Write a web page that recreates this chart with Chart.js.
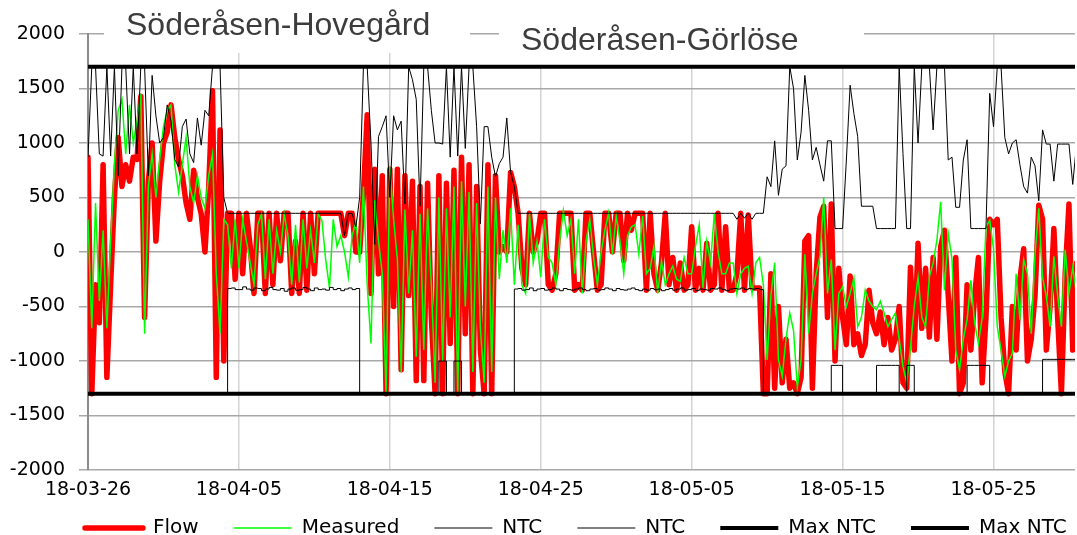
<!DOCTYPE html>
<html>
<head>
<meta charset="utf-8">
<title>Söderåsen flow</title>
<script src="https://cdn.jsdelivr.net/npm/chart.js@4.4.1/dist/chart.umd.min.js"></script>
<style>
  html, body { margin: 0; padding: 0; background: #fff; }
</style>
</head>
<body>
<canvas id="flowChart" width="1077" height="535"></canvas>
<script>
// x is days since 18-03-26, one sample every 6 hours (4 per row = 1 day)
const STEP = 0.25;
const X_MAX = 65.4;

const dateLabels = ['18-03-26', '18-04-05', '18-04-15', '18-04-25', '18-05-05', '18-05-15', '18-05-25'];
const seriesNames = ['Flow', 'Measured', 'NTC', 'NTC', 'Max NTC', 'Max NTC'];
const maxNtc = [1700, -1300];

const flow = [
  870, -1300, -300, -650,   800, -1150, -300, 500,   1050, 600, 800, 650,   870, 850, 1430, -600,
  650, 1000, 100, 650,      1000, 1100, 1350, 1050,  850, 700, 450, 300,    750, 500, 350, 0,
  600, 1480, -1150, 1120,   -1000, 355, 355, -250,   355, -200, 355, 50,    -380, 355, 355, -380,
  355, -300, 355, -80,      355, 355, -380, 100,     -380, 355, -350, 355,  -200, 355, 355, 355,
  355, 355, 355, 355,       150, 355, 355, 0,        0, 540, 1260, -380,    760, -200, 700, -1300,
  760, -500, 760, -1080,    700, -400, 650, -1180,   600, -1180, 630, -600, -1300, 700, -1300, 630,
  -840, 750, -1300, 870,    -750, 800, -1300, 600,   -900, -1300, 800, -1300, 700, 0, 50, 0,
  730, 600, 355, -150,      -300, 355, 0, 100,       355, 355, -300, -350,  -200, 355, 355, 355,
  355, -350, -300, -350,    355, 355, 0, -350,       -300, 355, 355, 0,     355, 355, -80, 355,
  200, 355, 355, 355,       -350, 355, -200, -350,   -100, 355, -300, -50,  -350, -100, -350, -300,
  232, -350, -150, -350,    80, -350, -300, 355,     -350, 232, -350, -350, -200, 355, -350, 340,
  -330, -330, -330, -1300,  -1300, -200, -1250, -500, -1200, -800, -1250, -1200, -1300, -1150, 100, 150,
  -1250, -200, 320, 420,    -600, 440, -1000, -150,  -600, -850, -220, -850, -750, -950, -850, -350,
  -650, -750, -550, -850,   -600, -900, -800, -500,  -1200, -1250, -140, -900, 80, -700, -150, -780,
  -50, -800, 50, 200,       -400, -1000, -50, -1300, -1200, -300, -900, -400, -50, -1200, -600, 300,
  250, 300, -600, -1100,    -1300, -500, -900, -250, 30, -1000, -800, -400, 430, 300, -900, -500,
  215, -600, -1300, -200,   440, -900, -100, -800
];

const measured = [
  300, -700, 450, -450,     200, -700, 100, 800,     1300, 1400, 900, 1350, 1000, 1200, 1450, -750,
  600, 900, 500, 850,       1150, 1300, 1350, 800,   550, 800, 1050, 600,   450, 700, 500, 400,
  700, 900, -200, -750,     300, 250, -150, 300,     -150, 300, 100, -100,  -300, 250, 350, -250,
  300, -200, 200, 0,        350, 150, -300, 250,     -280, 300, -150, 200,  -100, 350, 290, -70,
  -330, 300, 50, 150,       0, -230, 150, 270,       -100, 600, -300, -840, 475, 100, -200, -1300,
  780, 300, -70, -1100,     390, -380, 200, -960,    350, -900, 400, -300,  -1200, 500, -1000, 400,
  -600, 600, -1300, 650,    -500, 550, -1100, 450,   -700, -1200, 600, -1100, 500, -250, 200, -100,
  400, -300, 250, -300,     -380, 355, -100, 100,    -230, 300, -50, -100,  -300, 100, 380, 150,
  300, -200, 300, -380,     100, 300, -50, -300,     0, 200, 360, -20,      330, 100, -200, 150,
  230, 250, -20, 330,       -200, -150, 50, -380,    -80, -300, -200, -130, -250, -270, -50, -200,
  -200, 50, 250, -330,      100, -100, 350, 0,       -200, -200, -100, -100, -380, -200, -150, -130,
  -380, -100, -50, -300,    -990, -400, -100, -990,  -1140, -800, -560, -720, -1240, -990, -20, -750,
  -380, -200, -40, 500,     -380, -70, -900, -380,   -320, -500, -380, -240, -685, -600, -350, -450,
  -500, -530, -450, -560,   -685, -620, -560, -800,  -1050, -1200, -870, -500, -230, -600, -685, -230,
  -100, 110, 460, -350,     170, -70, -900, -1080,   -800, -620, -260, -650, -840, -600, 230, 290,
  30, -685, -900, -1140,    -1000, -930, -200, -620, -70, -200, -750, -20,  400, -230, -410, -685,
  -40, -400, -685, 20,      -380, -140, -380, -300
];

const ntcHigh = [
  870, 1700, 1700, 900,     880, 1700, 880, 1700,    700, 1700, 1700, 900,  1700, 900, 1700, 1700,
  700, 1620, 1250, 1000,    1050, 1350, 1200, 850,   780, 1150, 1220, 900,  820, 1230, 980, 1300,
  1250, 1700, 1700, 1700,   500, 355, 355, 355,      355, 355, 355, 355,    355, 355, 355, 355,
  355, 355, 355, 355,       355, 355, 355, 355,      355, 355, 355, 355,    355, 355, 355, 355,
  355, 355, 355, 355,       150, 355, 355, 230,      500, 1700, 1700, 1000, 70, 1060, 1150, 1250,
  500, 1250, 1120, 1200,    440, 1700, 1580, 1400,   420, 1700, 1700, 1300, 1000, 1000, 990, 1700,
  870, 1700, 880, 1700,     950, 1700, 1700, 1150,   260, 1150, 1150, 870,  690, 810, 870, 1230,
  730, 600, 355, 355,       355, 355, 355, 355,      355, 355, 355, 355,    355, 355, 355, 355,
  355, 355, 355, 355,       355, 355, 355, 355,      355, 355, 355, 355,    355, 355, 355, 355,
  355, 355, 355, 355,       355, 355, 355, 355,      355, 355, 355, 355,    355, 355, 355, 355,
  355, 355, 355, 355,       355, 355, 355, 355,      355, 355, 355, 355,    300, 355, 310, 355,
  300, 355, 355, 355,       690, 600, 1020, 520,     760, 790, 1700, 1500,  844, 1100, 1620, 1300,
  844, 960, 800, 650,       1020, 1020, 215, 215,    215, 844, 1530, 1270,  1060, 420, 420, 420,
  420, 215, 215, 215,       215, 215, 215, 1700,     905, 215, 215, 1700,   1000, 1700, 1700, 1700,
  1120, 1700, 1700, 1700,   844, 870, 410, 410,      844, 1030, 215, 215,   215, 215, 215, 1456,
  1150, 1700, 1700, 1050,   900, 1000, 1030, 800,    600, 540, 870, 790,    470, 1120, 990, 990,
  650, 990, 990, 990,       990, 620, 990, 990
];

const ntcLow = [
  -1300, -1300, -1300, -1300, -1300, -1300, -1300, -1300, -1300, -1300, -1300, -1300, -1300, -1300, -1300, -1300,
  -1300, -1300, -1300, -1300, -1300, -1300, -1300, -1300, -1300, -1300, -1300, -1300, -1300, -1300, -1300, -1300,
  -1300, -1300, -1300, -1300, -1300, -335, -330, -345,   -345, -320, -340, -350,   -330, -335, -355, -340,
  -325, -345, -350, -335,   -360, -340, -330, -350,      -345, -325, -340, -355,   -330, -345, -340, -350,
  -325, -345, -335, -355,   -340, -330, -345, -335,      -1300, -1300, -1300, -1300, -1300, -1300, -1300, -1300,
  -1300, -1300, -1300, -1300, -1300, -1300, -1300, -1300, -1300, -1300, -1300, -1300, -1300, -1000, -1000, -1300,
  -1300, -1000, -1000, -1300, -1300, -1300, -1300, -1300, -1300, -1300, -1300, -1300, -1300, -1300, -1300, -1300,
  -1300, -340, -335, -350,  -345, -330, -355, -340,      -335, -350, -345, -330,   -340, -355, -335, -345,
  -350, -340, -330, -345,   -355, -340, -335, -350,      -345, -330, -340, -355,   -335, -345, -350, -340,
  -330, -345, -355, -340,   -350, -335, -345, -340,      -355, -345, -335, -350,   -340, -330, -350, -345,
  -335, -355, -340, -345,   -350, -335, -340, -330,      -345, -355, -340, -335,   -340, -330, -345, -335,
  -340, -335, -345, -1300,  -1300, -1300, -1300, -1300,  -1300, -1300, -1300, -1300, -1300, -1300, -1300, -1300,
  -1300, -1300, -1300, -1300, -1300, -1040, -1040, -1040, -1300, -1300, -1300, -1300, -1300, -1300, -1300, -1300,
  -1300, -1040, -1040, -1040, -1040, -1040, -1040, -1300, -1300, -1040, -1040, -1300, -1300, -1300, -1300, -1300,
  -1300, -1300, -1300, -1300, -1300, -1300, -1300, -1300, -1300, -1040, -1040, -1040, -1040, -1040, -1040, -1300,
  -1300, -1300, -1300, -1300, -1300, -1300, -1300, -1300, -1300, -1300, -1300, -1300, -1300, -985, -985, -985,
  -985, -985, -985, -985,   -985, -985, -985, -985
];

const toPoints = arr => arr.map((v, i) => ({ x: i * STEP, y: v }));
const flatLine = v => [{ x: 0, y: v }, { x: X_MAX, y: v }];

Chart.defaults.font.family = '"DejaVu Sans", sans-serif';
Chart.defaults.color = '#000';

const X_AXIS_H = 36;

// two area names sit on white boxes over the top gridline
const areaTitles = {
  id: 'areaTitles',
  beforeDatasetsDraw(chart) {
    const ctx = chart.ctx;
    ctx.save();
    ctx.fillStyle = '#fff';
    ctx.fillRect(104, 0, 366, 53);
    ctx.fillRect(499, 0, 365, 65);
    ctx.fillStyle = '#3c3c3c';
    ctx.font = '32px "Liberation Sans", Arial, sans-serif';
    ctx.textBaseline = 'alphabetic';
    ctx.fillText('Söderåsen-Hovegård', 126, 35);
    ctx.fillText('Söderåsen-Görlöse', 521, 50);
    ctx.restore();
  }
};

// legend sits under the plot, starting at the y axis
const legendPlace = {
  id: 'legendPlace',
  afterLayout(chart) {
    const lg = chart.legend;
    lg.left = 50;
    lg.right = 1140;
    lg.top = 483;
    lg.bottom = 535;
  }
};

new Chart(document.getElementById('flowChart'), {
  type: 'line',
  data: {
    datasets: [
      { label: seriesNames[0], data: toPoints(flow), borderColor: '#ff0000', borderWidth: 5.5,
        borderJoinStyle: 'round', borderCapStyle: 'round', order: 6 },
      { label: seriesNames[1], data: toPoints(measured), borderColor: '#00ff00', borderWidth: 1.5, order: 5 },
      { label: seriesNames[2], data: toPoints(ntcHigh), borderColor: '#000', borderWidth: 1, order: 4 },
      { label: seriesNames[3], data: toPoints(ntcLow), borderColor: '#000', borderWidth: 1, stepped: true, order: 3 },
      { label: seriesNames[4], data: flatLine(maxNtc[0]), borderColor: '#000', borderWidth: 4, order: 2 },
      { label: seriesNames[5], data: flatLine(maxNtc[1]), borderColor: '#000', borderWidth: 4, order: 1 }
    ]
  },
  options: {
    responsive: false,
    animation: false,
    events: [],
    // negative bottom padding lets the legend overlap the tick-label band
    layout: { padding: { top: 34, right: 2, left: 0, bottom: -X_AXIS_H } },
    elements: { point: { radius: 0 }, line: { tension: 0, fill: false } },
    scales: {
      x: {
        type: 'linear',
        min: 0,
        max: X_MAX,
        afterFit: s => { s.height = X_AXIS_H; },
        grid: { color: '#d4d4d4', lineWidth: 1.5, drawTicks: false },
        border: { display: false },
        ticks: {
          stepSize: 10, includeBounds: false, autoSkip: false, maxRotation: 0,
          padding: 9, font: { size: 19 },
          callback: v => dateLabels[Math.round(v / 10)]
        }
      },
      y: {
        min: -2000,
        max: 2000,
        afterFit: s => { s.width = 88; },
        grid: { color: '#a8a8a8', lineWidth: 1.5, tickLength: 9 },
        border: { color: '#8c8c8c', width: 2 },
        ticks: { stepSize: 500, padding: 14, font: { size: 19 }, callback: v => String(v) }
      }
    },
    plugins: {
      tooltip: { enabled: false },
      legend: {
        position: 'bottom',
        align: 'start',
        labels: {
          usePointStyle: true,
          pointStyle: 'line',
          pointStyleWidth: 58,
          padding: 35,
          font: { size: 20 },
          generateLabels(chart) {
            const items = Chart.defaults.plugins.legend.labels.generateLabels(chart);
            items.forEach(it => {
              const ds = chart.data.datasets[it.datasetIndex];
              it.lineWidth = ds.borderWidth;
              it.lineCap = ds.borderCapStyle || 'butt';
            });
            return items.sort((a, b) => a.datasetIndex - b.datasetIndex);
          }
        }
      }
    }
  },
  plugins: [areaTitles, legendPlace]
});
</script>
</body>
</html>
